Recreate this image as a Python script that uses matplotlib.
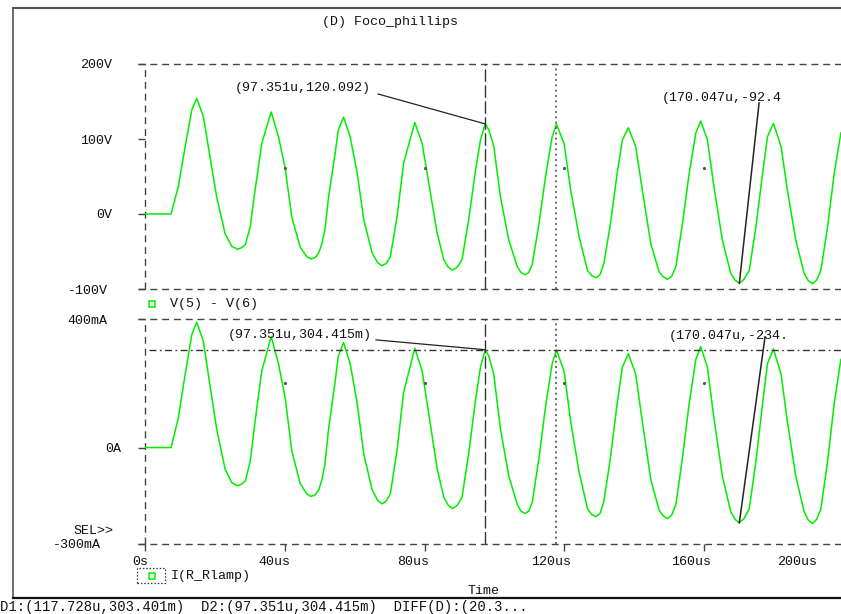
"""
Re-draw of a PSpice probe window: lamp voltage and lamp current
of the "Foco_phillips" ballast simulation, with two cursors.
"""

import matplotlib
matplotlib.use('Agg')
import matplotlib.pyplot as plt
import matplotlib.transforms as mtransforms
from matplotlib.lines import Line2D
from matplotlib.patches import Rectangle

# ---- data (one row per half cycle or so) ----------------------------------
time_us = [
    0.0, 7.45, 9.5, 11.5, 13.4, 14.8, 16.7, 18.6, 20.5, 22.9, 24.8, 26.5,
    27.6, 28.7, 30.1, 31.5, 33.4, 36.1, 38.2, 40.1, 42.0, 44.4, 46.3, 47.5,
    48.7, 49.7, 50.6, 51.5, 52.5, 54.4, 55.3, 56.8, 58.7, 60.7, 62.6, 65.0, 66.6, 67.8,
    69.0, 70.2, 72.1, 74.0, 77.2, 79.3, 81.2, 83.6, 85.5, 86.8, 88.0,
    89.3, 90.7, 92.6, 94.6, 96.0, 97.351, 98.4, 99.8, 101.7, 104.1, 106.5, 107.6, 108.7,
    109.8, 110.8, 112.7, 114.6, 116.5, 117.728, 119.9, 121.8, 124.2, 126.6, 127.8, 129.0,
    130.2, 131.3, 133.2, 135.1, 136.6, 138.3, 140.4, 142.3, 144.7, 147.1, 148.3, 149.5,
    150.7, 151.9, 153.8, 155.7, 157.6, 159.0, 160.9, 162.8, 165.2, 167.6, 168.8, 170.047,
    171.4, 172.9, 174.8, 176.7, 178.1, 179.8, 182.0, 183.8, 186.2, 188.6, 189.8, 191.0,
    192.2, 193.4, 195.3, 197.2, 199.1,
]

v_lamp = [   # V(5) - V(6), volts
    0, 0, 36, 90, 139, 154, 130, 76, 23, -26, -43, -47,
    -45, -41, -17, 32, 94, 136, 103, 61, -4, -44, -57, -60,
    -58, -52, -40, -20, 22, 81, 112, 129, 103, 55, -8, -52, -65, -69,
    -66, -57, -4, 68, 122, 94, 41, -26, -61, -71, -75,
    -71, -61, -8, 59, 99, 120.092, 112, 90, 23, -35, -70, -78, -81,
    -78, -67, -14, 50, 103, 119.7, 94, 32, -30, -75, -82, -85,
    -81, -66, -12, 54, 99, 115, 90, 32, -39, -77, -84, -87,
    -83, -70, -12, 54, 108, 124, 99, 36, -35, -79, -88, -92.4,
    -87, -75, -17, 54, 103, 121, 90, 32, -35, -79, -89, -93,
    -88, -75, -17, 54, 108,
]

i_lamp = [   # I(R_Rlamp), mA
    0, 0, 91, 228, 352, 390, 330, 193, 58, -66, -109, -119,
    -114, -104, -43, 81, 238, 345, 261, 155, -10, -112, -144, -152,
    -147, -132, -101, -51, 56, 205, 284, 327, 261, 139, -20, -132, -165, -175,
    -167, -144, -10, 172, 309, 238, 104, -66, -155, -180, -190,
    -180, -155, -20, 150, 251, 304.415, 284, 228, 58, -89, -177, -198, -205,
    -198, -170, -35, 127, 261, 303.401, 238, 81, -76, -190, -208, -215,
    -205, -167, -30, 137, 251, 292, 228, 81, -99, -195, -213, -221,
    -210, -177, -30, 137, 274, 314, 251, 91, -89, -200, -223, -234,
    -221, -190, -43, 137, 261, 307, 228, 81, -89, -200, -226, -236,
    -223, -190, -43, 137, 274,
]

v_ticks = [-100, 0, 100, 200]
v_ticklabels = ['-100V', '0V', '100V', '200V']
i_ticks = [-300, 0, 400]
i_ticklabels = ['-300mA', '0A', '400mA']
t_ticks = [0, 40, 80, 120, 160]
t_ticklabels = ['0s', '40us', '80us', '120us', '160us']

cursor_d1 = (117.728, 303.401)   # time us, current mA
cursor_d2 = (97.351, 304.415)
mark_peak = (97.351, 120.092, 304.415)   # time, V, mA
mark_trough = (170.047, -92.4, -234.0)

# ---- layout helpers (reference is 841 x 614 px) ---------------------------
W, H = 841, 614
GREEN = '#00ee00'
INK = '#111111'
FRAME = '#444444'

plt.rcParams['font.family'] = ['Liberation Mono', 'DejaVu Sans Mono']
plt.rcParams['font.size'] = 9.6


def fx(px):
    return px / W


def fy(py):
    return 1 - py / H


def rect(left, top, right, bottom):
    return [fx(left), fy(bottom), (right - left) / W, (bottom - top) / H]


def shift(text_obj, dx_px, dy_px=0):
    off = mtransforms.ScaledTranslation(dx_px / 100, -dy_px / 100, fig.dpi_scale_trans)
    text_obj.set_transform(text_obj.get_transform() + off)


fig = plt.figure(figsize=(W / 100, H / 100), dpi=100)
fig.patch.set_facecolor('white')

ax_v = fig.add_axes(rect(145, 64, 841, 289))
ax_i = fig.add_axes(rect(145, 319, 841, 544))
x_max = 696 / 3.495

for ax in (ax_v, ax_i):
    ax.set_xlim(0, x_max)
    for sp in ax.spines.values():
        sp.set_visible(False)
    # dashed PSpice frame: top, bottom (stub to the left) and left edge
    for yy in (0, 1):
        ax.plot([-7 / 696, 1], [yy, yy], transform=ax.transAxes, clip_on=False,
                color=FRAME, lw=1, dashes=(5, 3.5))
    ax.plot([0, 0], [0, 1], transform=ax.transAxes, clip_on=False,
            color=FRAME, lw=1, dashes=(5, 3.5))
    ax.tick_params(axis='y', direction='out', length=5, width=1, color=FRAME,
                   pad=18.7, labelcolor=INK)

ax_v.set_ylim(-100, 200)
ax_i.set_ylim(-300, 400)

ax_v.plot(time_us, v_lamp, color=GREEN, lw=1.1)
ax_i.plot(time_us, i_lamp, color=GREEN, lw=1.1)

# ticks
ax_v.set_yticks(v_ticks, v_ticklabels)
ax_v.set_xticks([])
ax_i.set_yticks(i_ticks, i_ticklabels)
ax_i.set_xticks(t_ticks, t_ticklabels)
ax_i.tick_params(axis='x', direction='out', length=5, width=1, color=FRAME,
                 pad=3.6, labelcolor=INK)

for lbl, dx in zip(ax_v.get_yticklabels(), [-4, 0, 0, 0]):
    shift(lbl, dx)
for lbl, dx in zip(ax_i.get_yticklabels(), [-11, 9, -5]):
    shift(lbl, dx)
for lbl, dx in zip(ax_i.get_xticklabels(), [-5, -10, -11, -13, -13]):
    shift(lbl, dx)

fig.text(fx(797), fy(562), '200us', ha='center', va='center', color=INK)
fig.text(fx(484), fy(591), 'Time', ha='center', va='center', color=INK)
fig.text(fx(113), fy(531), 'SEL>>', ha='right', va='center', color=INK)

# small grid dots
ax_v.plot(t_ticks[1:], [62] * 4, 'o', ms=1.3, color='#555555')
ax_i.plot(t_ticks[1:], [200] * 4, 'o', ms=1.3, color='#555555')

# cursors
for ax in (ax_v, ax_i):
    ax.axvline(cursor_d2[0], color='#333333', lw=1, dashes=(9, 2.5))
    ax.axvline(cursor_d1[0], color='#555555', lw=1.2, dashes=(1.2, 2))
ax_i.axhline(cursor_d2[1], xmin=1.1 / x_max, xmax=1, color='#333333', lw=1,
             dashes=(5, 2.5, 1.2, 2.5))

# mark labels
ax_v.text(25.8, 168, f'({mark_peak[0]}u,{mark_peak[1]:.3f})', va='center', color=INK)
ax_v.plot([66.7, mark_peak[0]], [160, mark_peak[1]], color='#222222', lw=0.9)
ax_v.text(147.9, 155, f'({mark_trough[0]}u,{mark_trough[1]}', va='center', color=INK)
ax_v.plot([175.7, mark_trough[0]], [148, mark_trough[1]], color='#222222', lw=1.1)

ax_i.text(23.7, 350, f'({mark_peak[0]}u,{mark_peak[2]:.3f}m)', va='center', color=INK)
ax_i.plot([66.1, mark_peak[0]], [335, mark_peak[2]], color='#222222', lw=0.9)
ax_i.text(149.9, 347, f'({mark_trough[0]}u,{mark_trough[2]:.0f}.', va='center', color=INK)
ax_i.plot([177.4, mark_trough[0]], [344, mark_trough[2]], color='#222222', lw=1.1)

# title and trace legends
fig.text(fx(322), fy(22), '(D) Foco_phillips', va='center', color=INK)
fig.add_artist(Line2D([fx(152)], [fy(304)], marker='s', ms=4.2, mfc='white',
                      mec=GREEN, mew=1.1))
fig.text(fx(170), fy(304), 'V(5) - V(6)', va='center', color=INK)
fig.add_artist(Rectangle((fx(137), fy(583)), 28 / W, 15 / H, fill=False,
                         ec='#333333', lw=0.9, ls=(0, (1.2, 1.5))))
fig.add_artist(Line2D([fx(152)], [fy(576)], marker='s', ms=4.2, mfc='white',
                      mec=GREEN, mew=1.1))
fig.text(fx(171), fy(576), 'I(R_Rlamp)', va='center', color=INK)

# window frame and status bar
fig.add_artist(Line2D([fx(13), 1], [fy(8), fy(8)], color='#555555', lw=1.5))
fig.add_artist(Line2D([fx(13), fx(13)], [fy(8), fy(598)], color='#555555', lw=1.2))
fig.add_artist(Line2D([fx(13), 1], [fy(598), fy(598)], color='#111111', lw=1.6))
fig.text(0, fy(607),
         f'D1:({cursor_d1[0]}u,{cursor_d1[1]}m)  D2:({cursor_d2[0]}u,{cursor_d2[1]}m)'
         '  DIFF(D):(20.3...', va='center', fontsize=10, color=INK)

fig.savefig('out.png', dpi=100, facecolor='white')
